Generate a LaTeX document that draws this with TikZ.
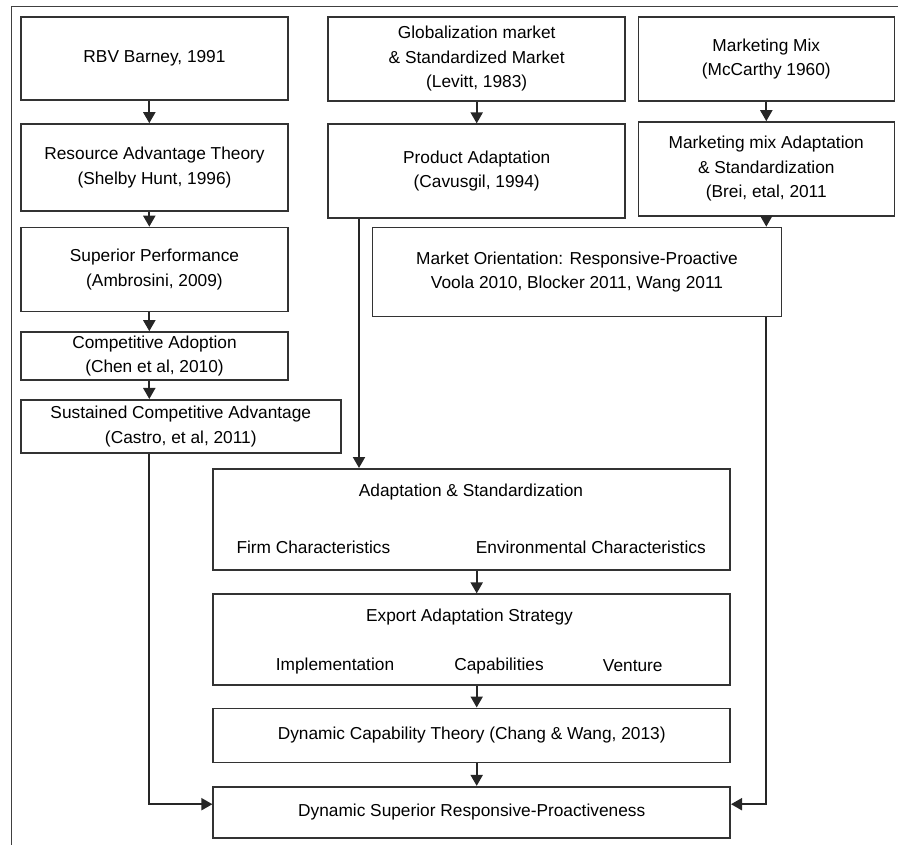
\documentclass[tikz,border=0pt]{standalone}
\usepackage{fontspec}
\setmainfont{Liberation Sans}
\usetikzlibrary{arrows.meta}

\begin{document}
\begin{tikzpicture}[x=1pt,y=-1pt,
  block/.style={draw=black!80,line width=1.6pt,align=center,inner sep=0pt,
    font=\fontsize{17.3}{24.5}\selectfont},
  txt/.style={inner sep=0pt,font=\fontsize{17.3}{24.5}\selectfont},
  flow/.style={draw=black!85,line width=2pt,-{Triangle[width=12pt,length=11pt]}}]
  \useasboundingbox (0,0) rectangle (898,845);
  \draw[line width=1.2pt,black!75] (898,6.7) -- (11.7,6.7) -- (11.7,845);

  \node[block,minimum width=267pt,minimum height=83pt] (rbv) at (154.5,58.5) {RBV Barney, 1991};
  \node[block,minimum width=267pt,minimum height=87pt] (rat) at (154.5,167.5)
    {Resource Advantage Theory\\(Shelby Hunt, 1996)};
  \node[block,minimum width=267pt,minimum height=84pt] (sp) at (154.5,269.5)
    {Superior Performance\\(Ambrosini, 2009)};
  \node[block,minimum width=267pt,minimum height=48pt] (ca) at (154.5,356)
    {Competitive Adoption\\(Chen et al, 2010)};
  \node[block,minimum width=320pt,minimum height=53pt] (sca) at (180.8,426.3)
    {Sustained Competitive Advantage\\(Castro, et al, 2011)};

  \node[block,minimum width=297pt,minimum height=84pt] (glob) at (476.7,59)
    {Globalization market\\\& Standardized Market\\(Levitt, 1983)};
  \node[block,minimum width=297pt,minimum height=94pt] (prod) at (476.7,171.2)
    {Product Adaptation\\(Cavusgil, 1994)};
  \node[block,minimum width=256pt,minimum height=84pt] (mm) at (766.3,59)
    {Marketing Mix\\(McCarthy 1960)};
  \node[block,minimum width=256pt,minimum height=94pt] (mma) at (766.3,169)
    {Marketing mix Adaptation\\\& Standardization\\(Brei, etal, 2011};
  \node[block,minimum width=409pt,minimum height=89pt] (mo) at (577,272)
    {Market Orientation: Responsive-Proactive\\Voola 2010, Blocker 2011, Wang 2011};

  \node[block,minimum width=517pt,minimum height=101pt] (as) at (471.7,519.3) {};
  \node[txt] (astitle) at (471,491.7) {Adaptation \& Standardization};
  \node[txt] (firm) at (313.4,547.3) {Firm Characteristics};
  \node[txt] (env) at (590.8,547.3) {Environmental Characteristics};

  \node[block,minimum width=517pt,minimum height=91pt] (eas) at (471.7,639.7) {};
  \node[txt] (eastitle) at (469.5,616.7) {Export Adaptation Strategy};
  \node[txt] (impl) at (335,665.7) {Implementation};
  \node[txt] (capa) at (499,665.7) {Capabilities};
  \node[txt] (vent) at (632.8,665.7) {Venture};

  \node[block,minimum width=517pt,minimum height=54pt] (dct) at (471.7,735.3)
    {Dynamic Capability Theory (Chang \& Wang, 2013)};
  \node[block,minimum width=517pt,minimum height=51pt] (dsr) at (471.7,812.2)
    {Dynamic Superior Responsive-Proactiveness};

  \coordinate (lcol) at ([xshift=-5.2pt]rbv.south);
  \coordinate (pcol) at ([xshift=-117.7pt]prod.south);
  \coordinate (mcol) at ([xshift=5pt]as.south);

  \draw[flow] (lcol) -- (lcol |- rat.north);
  \draw[flow] (lcol |- rat.south) -- (lcol |- sp.north);
  \draw[flow] (lcol |- sp.south) -- (lcol |- ca.north);
  \draw[flow] (lcol |- ca.south) -- (lcol |- sca.north);
  \draw[flow] (lcol |- sca.south) |- ([yshift=8pt]dsr.west);

  \draw[flow] (glob.south) -- (prod.north);
  \draw[flow] (mm.south) -- (mma.south |- mma.north);
  \draw[flow] (mma.south) -- (mma.south |- mo.north);
  \draw[flow] (pcol) -- (pcol |- as.north);
  \draw[flow] (mma.south |- mo.south) |- ([yshift=8pt]dsr.east);

  \draw[flow] (mcol) -- (mcol |- eas.north);
  \draw[flow] (mcol |- eas.south) -- (mcol |- dct.north);
  \draw[flow] (mcol |- dct.south) -- (mcol |- dsr.north);
\end{tikzpicture}
\end{document}
